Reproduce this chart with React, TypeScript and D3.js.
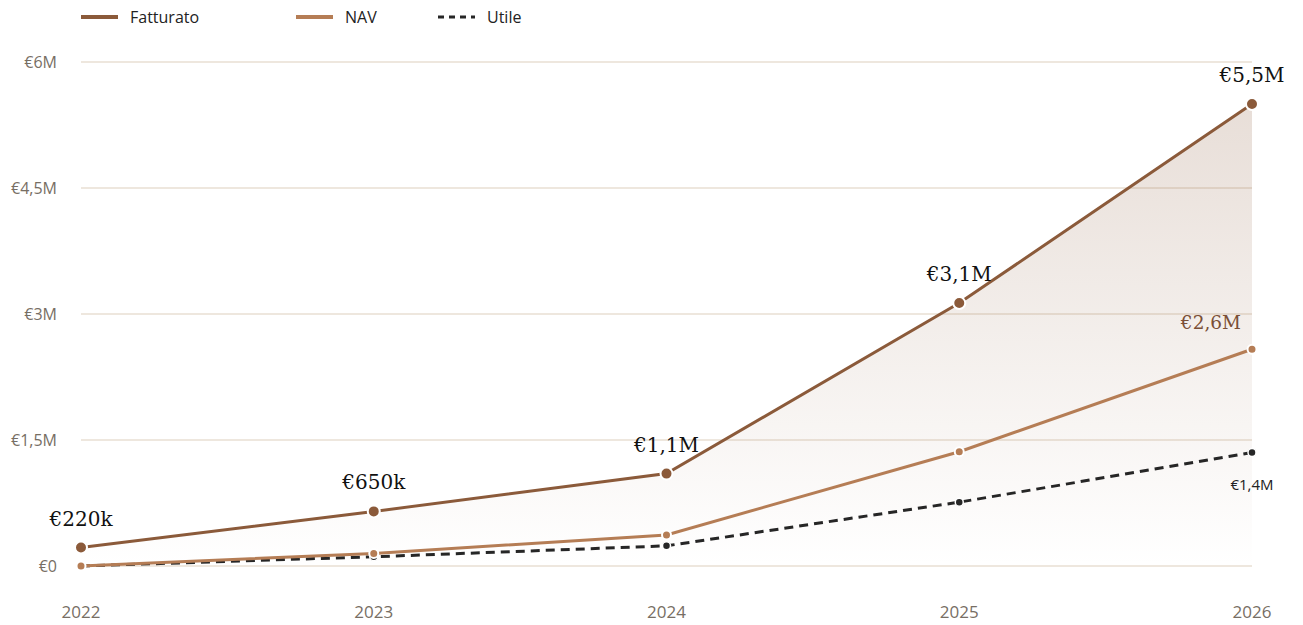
import React from "react";
import * as d3 from "d3";

const years = ["2022", "2023", "2024", "2025", "2026"];
const fatturato = [0.22, 0.65, 1.1, 3.13, 5.5];
const nav = [0, 0.15, 0.37, 1.36, 2.58];
const utile = [0, 0.11, 0.24, 0.76, 1.35];
const yTicks = [0, 1.5, 3, 4.5, 6];
const yTickLabels = ["€0", "€1,5M", "€3M", "€4,5M", "€6M"];
const fattLabels = ["€220k", "€650k", "€1,1M", "€3,1M", "€5,5M"];
const navLabel = "€2,6M";
const utileLabel = "€1,4M";

const W = 1303, H = 625;
const C_FATT = "#8b5a3a";
const C_NAV = "#b57d55";
const C_UT = "#262626";
const C_GRID = "#e8dfd3";
const C_TICK = "#776e64";

export default function App() {
  const x = d3.scalePoint<string>().domain(years).range([81, 1252]);
  const y = d3.scaleLinear().domain([0, 6]).range([566, 62]);
  const line = d3.line<number>().x((_, i) => x(years[i])!).y((d) => y(d));
  const area = d3.area<number>().x((_, i) => x(years[i])!).y0(y(0)).y1((d) => y(d));
  const sans = "'Open Sans', 'Noto Sans', sans-serif";
  const serif = "'DejaVu Serif', 'Liberation Serif', serif";
  const legend = [
    { label: "Fatturato", color: C_FATT, x: 81, dash: undefined, w: 4 },
    { label: "NAV", color: C_NAV, x: 296, dash: undefined, w: 4 },
    { label: "Utile", color: C_UT, x: 438, dash: "6,5", w: 3 },
  ];
  return (
    <svg width={W} height={H} style={{ position: "absolute", left: 0, top: 0, background: "#fff" }}>
      <defs>
        <linearGradient id="fg" gradientUnits="userSpaceOnUse" x1="0" y1={y(5.5)} x2="0" y2={y(0)}>
          <stop offset="0" stopColor={C_FATT} stopOpacity={0.2} />
          <stop offset="1" stopColor={C_FATT} stopOpacity={0.0} />
        </linearGradient>
      </defs>
      {legend.map((l) => (
        <g key={l.label}>
          <line x1={l.x} x2={l.x + 37} y1={17} y2={17} stroke={l.color} strokeWidth={l.w} strokeDasharray={l.dash} />
          <text x={l.x + 49} y={23} fontFamily={sans} fontSize={16} fill="#222">{l.label}</text>
        </g>
      ))}
      {yTicks.map((t, i) => (
        <g key={t}>
          <line x1={81} x2={1252} y1={y(t)} y2={y(t)} stroke={C_GRID} strokeWidth={1.3} />
          <text x={57} y={y(t) + 6} textAnchor="end" fontFamily={sans} fontSize={16} fill={C_TICK}>{yTickLabels[i]}</text>
        </g>
      ))}
      {years.map((yr) => (
        <text key={yr} x={x(yr)} y={618} textAnchor="middle" fontFamily={sans} fontSize={17} fill={C_TICK}>{yr}</text>
      ))}
      <path d={area(fatturato)!} fill="url(#fg)" />
      <path d={line(utile)!} fill="none" stroke={C_UT} strokeWidth={3} strokeDasharray="9,6" />
      <path d={line(nav)!} fill="none" stroke={C_NAV} strokeWidth={3} />
      <path d={line(fatturato)!} fill="none" stroke={C_FATT} strokeWidth={3} />
      {utile.map((d, i) => (
        <circle key={"u" + i} cx={x(years[i])} cy={y(d)} r={4} fill={C_UT} stroke="#fff" strokeWidth={1.5} />
      ))}
      {nav.map((d, i) => (
        <circle key={"n" + i} cx={x(years[i])} cy={y(d)} r={4.5} fill={C_NAV} stroke="#fff" strokeWidth={2} />
      ))}
      {fatturato.map((d, i) => (
        <circle key={"f" + i} cx={x(years[i])} cy={y(d)} r={6} fill={C_FATT} stroke="#fff" strokeWidth={2} />
      ))}
      {fatturato.map((d, i) => (
        <text key={"fl" + i} x={x(years[i])} y={y(d) - 22} textAnchor="middle" fontFamily={serif} fontSize={20} fill="#111">{fattLabels[i]}</text>
      ))}
      <text x={1241} y={y(nav[4]) - 20} textAnchor="end" fontFamily={serif} fontSize={18.5} fill="#7a4f36">{navLabel}</text>
      <text x={x(years[4])} y={y(utile[4]) + 37} textAnchor="middle" fontFamily={sans} fontSize={15} fill="#222">{utileLabel}</text>
    </svg>
  );
}
